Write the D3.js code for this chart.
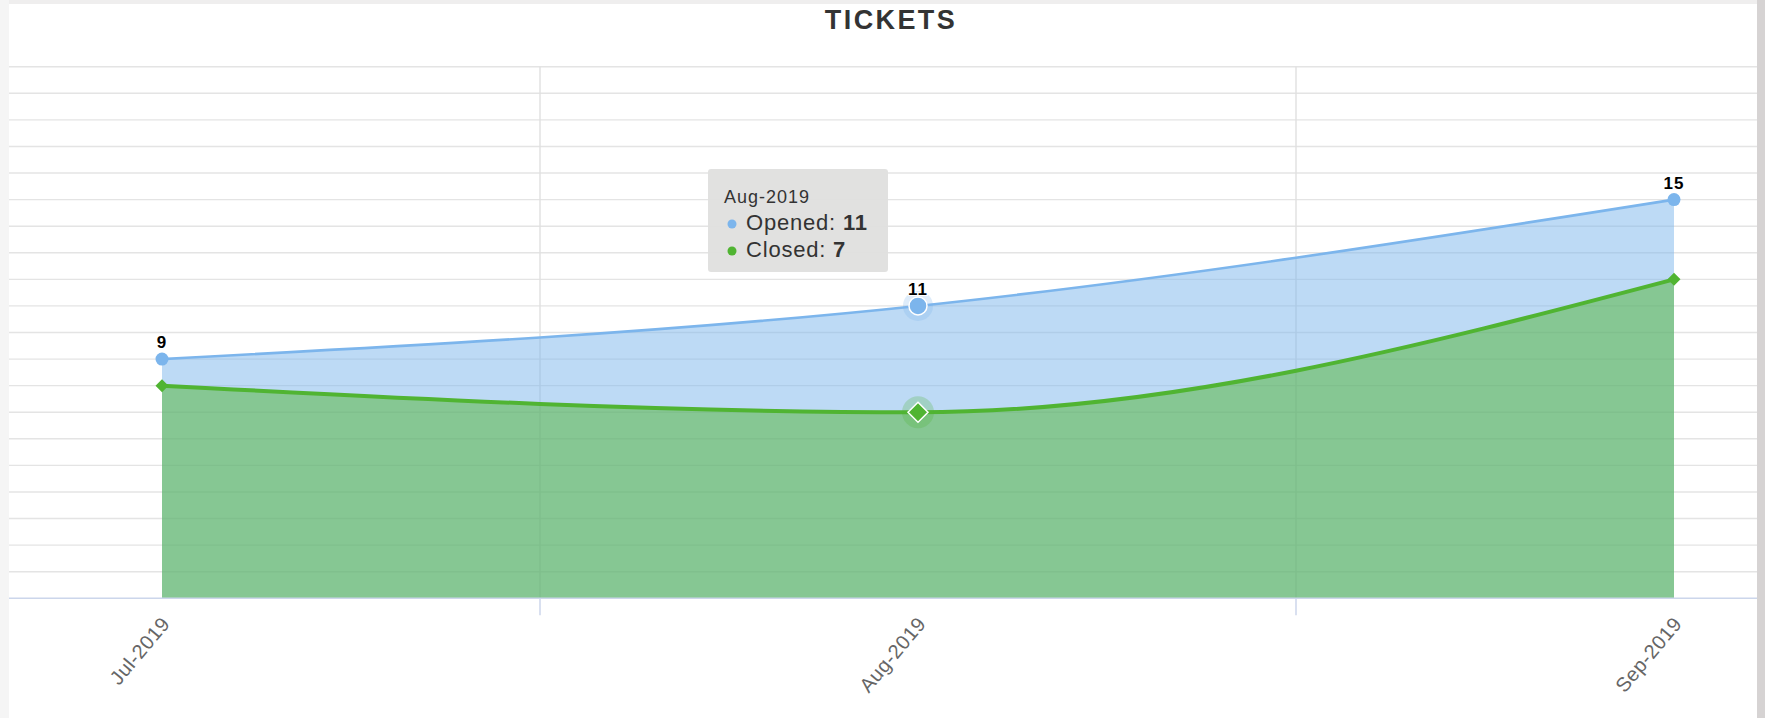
<!DOCTYPE html>
<html>
<head>
<meta charset="utf-8">
<script src="https://cdnjs.cloudflare.com/ajax/libs/d3/7.8.5/d3.min.js"></script>
<style>
  body { margin: 0; background: #ececec; }
  svg { display: block; font-family: "Liberation Sans", Arial, sans-serif; }
</style>
</head>
<body>
<svg></svg>
<script>

// chart data
var months = ["Jul-2019", "Aug-2019", "Sep-2019"];
var openedCounts = [9, 11, 15];
var closedCounts = [8, 7, 12];
var yTicks = d3.range(1, 21);
var seriesNames = ["Opened", "Closed"];
var hoverIndex = 1;

var width = 1765;
var height = 718;

var svg = d3.select("svg")
              .attr("width", width)
              .attr("height", height);

// page frame around the white panel
svg.append("rect").attr("x", 0).attr("y", 0).attr("width", width).attr("height", height).attr("fill", "#efeeee");
svg.append("rect").attr("x", 0).attr("y", 0).attr("width", 9).attr("height", height).attr("fill", "#f5f5f5");
svg.append("rect").attr("x", 1757).attr("y", 0).attr("width", 8).attr("height", height).attr("fill", "#d6d3d3");
svg.append("rect").attr("x", 9).attr("y", 4).attr("width", 1748).attr("height", height - 4).attr("fill", "#fff");

var x = d3.scalePoint()
            .domain(months)
            .range([162, 1674]);

var y = d3.scaleLinear()
            .domain([0, 20])
            .range([598.3, 66.7]);

var rows = months.map((m, i) => ({month: m, opened: openedCounts[i], closed: closedCounts[i]}));

// horizontal grid
svg.append("g")
    .selectAll("line")
    .data(yTicks)
    .enter()
    .append("line")
      .attr("x1", 9)
      .attr("x2", 1757)
      .attr("y1", d => y(d))
      .attr("y2", d => y(d))
      .attr("stroke", "#e4e4e4")
      .attr("stroke-width", 1.4);

// vertical grid between categories
var step = x.step();
var between = months.slice(1).map(m => x(m) - step / 2);

svg.append("g")
    .selectAll("line")
    .data(between)
    .enter()
    .append("line")
      .attr("x1", d => d)
      .attr("x2", d => d)
      .attr("y1", y(20))
      .attr("y2", y(0))
      .attr("stroke", "#e0e0e0")
      .attr("stroke-width", 1.4);

svg.append("g")
    .selectAll("line")
    .data(between)
    .enter()
    .append("line")
      .attr("x1", d => d)
      .attr("x2", d => d)
      .attr("y1", y(0))
      .attr("y2", y(0) + 17)
      .attr("stroke", "#ccd6eb")
      .attr("stroke-width", 1.5);

// areas
var areaOpened = d3.area()
                   .x(d => x(d.month))
                   .y0(y(0))
                   .y1(d => y(d.opened))
                   .curve(d3.curveMonotoneX);

var areaClosed = d3.area()
                   .x(d => x(d.month))
                   .y0(y(0))
                   .y1(d => y(d.closed))
                   .curve(d3.curveMonotoneX);

svg.append("path")
    .datum(rows)
    .attr("d", areaOpened)
    .attr("fill", "#7cb5ec")
    .attr("fill-opacity", 0.5);

svg.append("path")
    .datum(rows)
    .attr("d", areaClosed)
    .attr("fill", "#50b432")
    .attr("fill-opacity", 0.5);

svg.append("path")
    .datum(rows)
    .attr("d", areaOpened.lineY1())
    .attr("fill", "none")
    .attr("stroke", "#7cb5ec")
    .attr("stroke-width", 2.6);

svg.append("path")
    .datum(rows)
    .attr("d", areaClosed.lineY1())
    .attr("fill", "none")
    .attr("stroke", "#50b432")
    .attr("stroke-width", 4);

// x axis line
svg.append("line")
    .attr("x1", 9)
    .attr("x2", 1757)
    .attr("y1", y(0))
    .attr("y2", y(0))
    .attr("stroke", "#ccd6eb")
    .attr("stroke-width", 1.5);

// halos for the hovered point
var hovered = rows[hoverIndex];
svg.append("circle")
    .attr("cx", x(hovered.month))
    .attr("cy", y(hovered.opened))
    .attr("r", 15)
    .attr("fill", "#7cb5ec")
    .attr("fill-opacity", 0.25);

svg.append("circle")
    .attr("cx", x(hovered.month))
    .attr("cy", y(hovered.closed))
    .attr("r", 16)
    .attr("fill", "#50b432")
    .attr("fill-opacity", 0.25);

// markers
svg.append("g")
    .selectAll("circle")
    .data(rows)
    .enter()
    .append("circle")
      .attr("cx", d => x(d.month))
      .attr("cy", d => y(d.opened))
      .attr("r", (d, i) => i === hoverIndex ? 9 : 6.5)
      .attr("fill", "#7cb5ec")
      .attr("stroke", (d, i) => i === hoverIndex ? "#fff" : "none")
      .attr("stroke-width", 1.5);

function diamond(s) {
  return `M0,${-s}L${s},0L0,${s}L${-s},0Z`;
}

svg.append("g")
    .selectAll("path")
    .data(rows)
    .enter()
    .append("path")
      .attr("transform", d => `translate(${x(d.month)},${y(d.closed)})`)
      .attr("d", (d, i) => diamond(i === hoverIndex ? 10 : 6.5))
      .attr("fill", "#50b432")
      .attr("stroke", (d, i) => i === hoverIndex ? "#fff" : "none")
      .attr("stroke-width", 1.5);

// data labels on the opened series
svg.append("g")
    .selectAll("text")
    .data(rows)
    .enter()
    .append("text")
      .attr("x", d => x(d.month))
      .attr("y", d => y(d.opened) - 11)
      .attr("text-anchor", "middle")
      .attr("font-size", 17)
      .attr("font-weight", "bold")
      .attr("letter-spacing", 1)
      .attr("fill", "#000")
      .attr("stroke", "#fff")
      .attr("stroke-width", 2)
      .attr("paint-order", "stroke")
      .text(d => d.opened);

// x axis labels
svg.append("g")
    .selectAll("text")
    .data(months)
    .enter()
    .append("text")
      .attr("transform", d => `translate(${x(d) + 9},${y(0) + 26}) rotate(-50)`)
      .attr("text-anchor", "end")
      .attr("font-size", 20)
      .attr("letter-spacing", 0.5)
      .attr("fill", "#666")
      .text(d => d);

// title
svg.append("text")
    .attr("x", 891)
    .attr("y", 29)
    .attr("text-anchor", "middle")
    .attr("font-size", 27)
    .attr("font-weight", "bold")
    .attr("letter-spacing", 2.4)
    .attr("fill", "#333")
    .text("TICKETS");

// tooltip for the hovered month
var tip = svg.append("g").attr("transform", "translate(708,169)");

tip.append("rect")
    .attr("width", 180)
    .attr("height", 103)
    .attr("rx", 3)
    .attr("fill", "#e0e0df")
    .attr("fill-opacity", 0.96);

tip.append("text")
    .attr("x", 16)
    .attr("y", 34)
    .attr("font-size", 18)
    .attr("letter-spacing", 1)
    .attr("fill", "#333")
    .text(hovered.month);

var tipRows = [
  {name: seriesNames[0], value: hovered.opened, color: "#7cb5ec"},
  {name: seriesNames[1], value: hovered.closed, color: "#50b432"}
];

var tipLine = tip.selectAll("g.line")
    .data(tipRows)
    .enter()
    .append("g")
      .classed("line", true)
      .attr("transform", (d, i) => `translate(0,${61 + i * 27})`);

tipLine.append("circle")
    .attr("cx", 24)
    .attr("cy", -6)
    .attr("r", 4.5)
    .attr("fill", d => d.color);

var tipText = tipLine.append("text")
    .attr("x", 38)
    .attr("font-size", 22)
    .attr("letter-spacing", 0.8)
    .attr("fill", "#333");

tipText.append("tspan").text(d => d.name + ": ");
tipText.append("tspan").attr("font-weight", "bold").text(d => d.value);

</script>
</body>
</html>
